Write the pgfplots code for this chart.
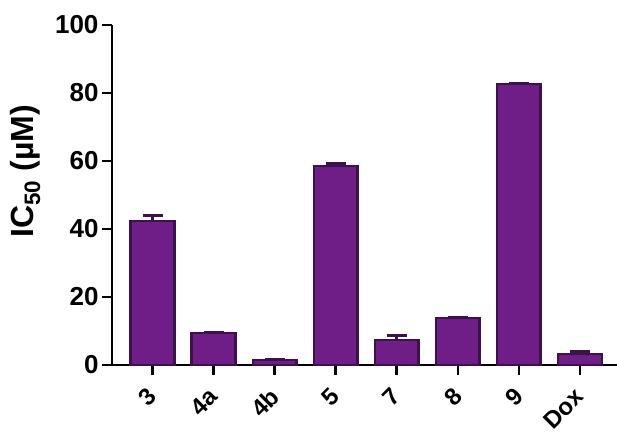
\documentclass[border=0pt]{standalone}
\usepackage{fontspec}
\setmainfont{Liberation Sans}
\usepackage{pgfplots}
\pgfplotsset{compat=1.18}
\definecolor{barfill}{RGB}{112,30,135}
\definecolor{barline}{RGB}{60,18,78}
\pgfplotstableread{
x y e
0 42.3 1.6
1 9.4 0.3
2 1.4 0.2
3 58.6 0.7
4 7.3 1.4
5 13.8 0.3
6 82.6 0.3
7 3.2 0.8
}\datatable
\begin{document}
\begin{tikzpicture}
\begin{axis}[
  at={(0,0)}, anchor=south west,
  scale only axis, width=505pt, height=340pt,
  axis x line*=bottom, axis y line*=left,
  axis line style={line width=2.5pt, black, -},
  xmin=-0.667, xmax=7.61, ymin=0, ymax=100,
  ytick={0,20,...,100},
  xtick={0,...,7},
  xticklabels={3,4a,4b,5,7,8,9,Dox},
  tick align=outside,
  major tick length=10pt,
  tick style={line width=2.5pt, black},
  clip=false,
  /pgf/number format/assume math mode=true,
  ticklabel style={font=\fontsize{26}{30}\selectfont\bfseries},
  xticklabel style={font=\fontsize{24}{28}\selectfont\bfseries, rotate=45, anchor=north east, inner sep=2pt, xshift=-10.4pt, yshift=-1.7pt},
  ylabel={IC\textsubscript{50} (µM)},
  ylabel style={font=\fontsize{32}{37}\selectfont\bfseries, at={(axis description cs:-0.135,0.569)}, anchor=south},
]
\addplot[ybar, bar width=0.72, fill=barfill, draw=barline, line width=2.5pt,
  error bars/.cd, y dir=plus, y explicit,
  error bar style={line width=2.5pt, barline},
  error mark options={rotate=90, line width=2.5pt, mark size=10pt, barline}]
  table[x=x, y=y, y error=e] {\datatable};
\end{axis}
\pgfresetboundingbox
\path (-112pt,-70pt) rectangle (505pt,365pt);
\end{tikzpicture}
\end{document}
